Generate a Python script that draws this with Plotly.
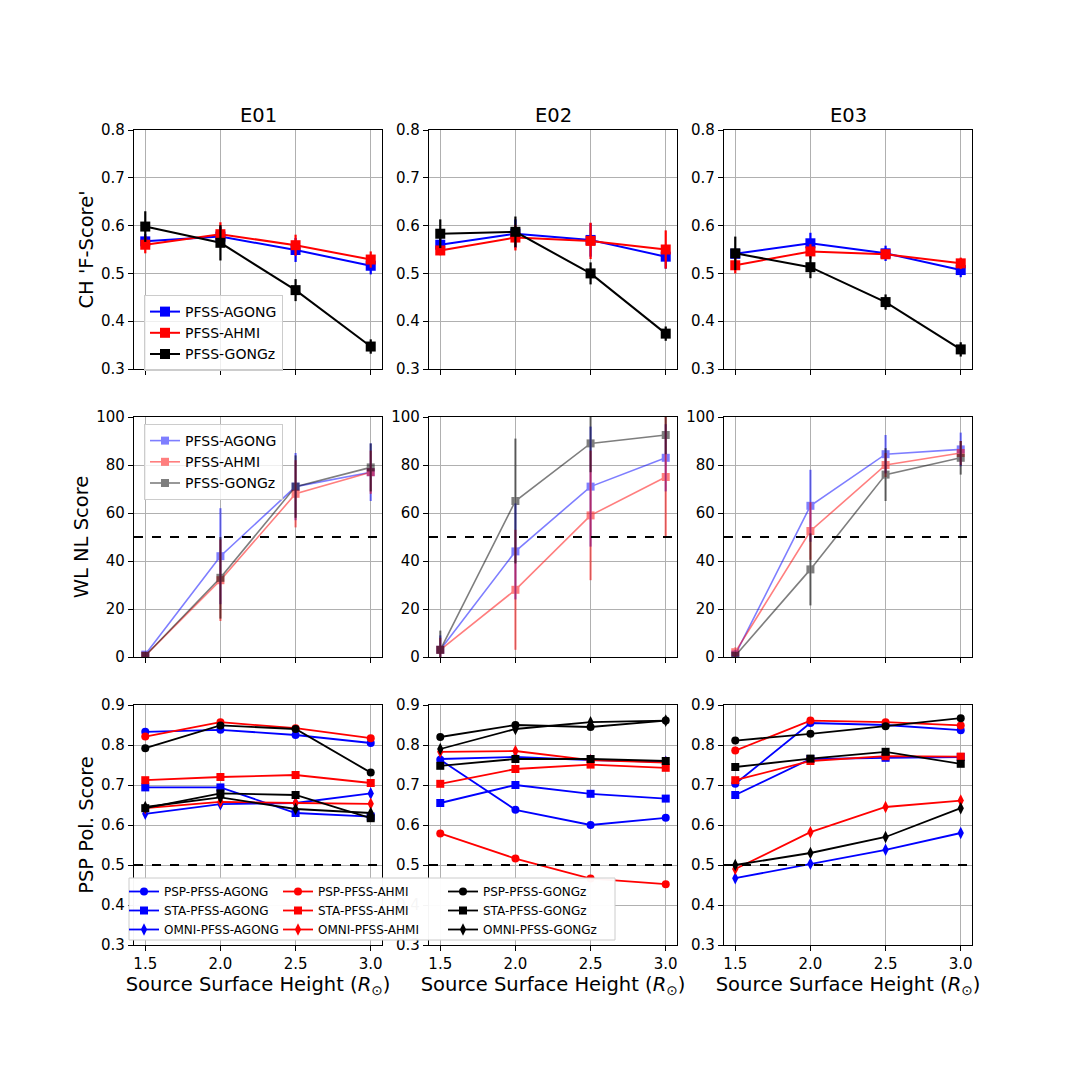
import plotly.graph_objects as go

heights = [1.5, 2.0, 2.5, 3.0]
height_labels = ["1.5", "2.0", "2.5", "3.0"]
events = ["E01", "E02", "E03"]
models = ["PFSS-AGONG", "PFSS-AHMI", "PFSS-GONGz"]
colors = {"PFSS-AGONG": "blue", "PFSS-AHMI": "red", "PFSS-GONGz": "black"}

# Row 1: CH F-score (value, error)
ch_agong = {"E01": [0.567, 0.577, 0.549, 0.516], "E02": [0.560, 0.583, 0.570, 0.535], "E03": [0.541, 0.563, 0.542, 0.507]}
ch_agong_err = {"E01": [0.015, 0.020, 0.025, 0.018], "E02": [0.020, 0.030, 0.035, 0.025], "E03": [0.010, 0.022, 0.016, 0.015]}
ch_ahmi = {"E01": [0.560, 0.582, 0.559, 0.529], "E02": [0.548, 0.575, 0.568, 0.550], "E03": [0.517, 0.546, 0.540, 0.521]}
ch_ahmi_err = {"E01": [0.018, 0.025, 0.022, 0.017], "E02": [0.010, 0.027, 0.038, 0.040], "E03": [0.017, 0.015, 0.010, 0.012]}
ch_gongz = {"E01": [0.598, 0.564, 0.465, 0.347], "E02": [0.583, 0.587, 0.500, 0.374], "E03": [0.542, 0.513, 0.440, 0.341]}
ch_gongz_err = {"E01": [0.032, 0.037, 0.023, 0.015], "E02": [0.030, 0.032, 0.023, 0.015], "E03": [0.035, 0.023, 0.016, 0.015]}

# Row 2: WL NL score (value, error)
wl_agong = {"E01": [1, 42, 71, 77], "E02": [3, 44, 71, 83], "E03": [1, 63, 84.5, 86.5]}
wl_agong_err = {"E01": [1.5, 20, 14, 12], "E02": [6, 20, 25, 14], "E03": [2, 15, 8, 7]}
wl_ahmi = {"E01": [0.5, 32, 68, 77], "E02": [3, 28, 59, 75], "E03": [2, 52.5, 80, 85]}
wl_ahmi_err = {"E01": [1, 17, 14, 9], "E02": [5, 25, 27, 25], "E03": [2, 12, 5, 5]}
wl_gongz = {"E01": [0.5, 33, 71, 79], "E02": [3, 65, 89, 92.5], "E03": [0.5, 36.5, 76, 83]}
wl_gongz_err = {"E01": [1, 17, 13, 10], "E02": [8, 26, 12, 8], "E03": [1, 15, 11, 7]}

# Row 3: PSP polarity score
psp_agong = {"E01": [0.833, 0.838, 0.825, 0.805], "E02": [0.763, 0.638, 0.600, 0.618], "E03": [0.703, 0.855, 0.850, 0.837]}
sta_agong = {"E01": [0.694, 0.694, 0.630, 0.621], "E02": [0.655, 0.700, 0.678, 0.666], "E03": [0.675, 0.765, 0.768, 0.770]}
omni_agong = {"E01": [0.628, 0.652, 0.655, 0.679], "E02": [0.765, 0.770, 0.762, 0.758], "E03": [0.467, 0.503, 0.538, 0.580]}
psp_ahmi = {"E01": [0.821, 0.857, 0.842, 0.817], "E02": [0.579, 0.516, 0.466, 0.452], "E03": [0.786, 0.861, 0.857, 0.849]}
sta_ahmi = {"E01": [0.712, 0.720, 0.725, 0.705], "E02": [0.703, 0.740, 0.751, 0.743], "E03": [0.712, 0.760, 0.772, 0.771]}
omni_ahmi = {"E01": [0.642, 0.658, 0.655, 0.653], "E02": [0.783, 0.785, 0.762, 0.756], "E03": [0.490, 0.582, 0.645, 0.661]}
psp_gongz = {"E01": [0.792, 0.849, 0.840, 0.731], "E02": [0.820, 0.850, 0.845, 0.861], "E03": [0.811, 0.828, 0.847, 0.867]}
sta_gongz = {"E01": [0.642, 0.679, 0.675, 0.617], "E02": [0.748, 0.765, 0.765, 0.760], "E03": [0.745, 0.766, 0.783, 0.753]}
omni_gongz = {"E01": [0.645, 0.669, 0.640, 0.630], "E02": [0.790, 0.840, 0.857, 0.861], "E03": [0.500, 0.530, 0.570, 0.642]}

ch_vals = {"PFSS-AGONG": (ch_agong, ch_agong_err), "PFSS-AHMI": (ch_ahmi, ch_ahmi_err), "PFSS-GONGz": (ch_gongz, ch_gongz_err)}
wl_vals = {"PFSS-AGONG": (wl_agong, wl_agong_err), "PFSS-AHMI": (wl_ahmi, wl_ahmi_err), "PFSS-GONGz": (wl_gongz, wl_gongz_err)}
# legend columns for the bottom row
pol_columns = [
    [("PSP-PFSS-AGONG", psp_agong, "blue", "circle"),
     ("STA-PFSS-AGONG", sta_agong, "blue", "square"),
     ("OMNI-PFSS-AGONG", omni_agong, "blue", "diamond-tall")],
    [("PSP-PFSS-AHMI", psp_ahmi, "red", "circle"),
     ("STA-PFSS-AHMI", sta_ahmi, "red", "square"),
     ("OMNI-PFSS-AHMI", omni_ahmi, "red", "diamond-tall")],
    [("PSP-PFSS-GONGz", psp_gongz, "black", "circle"),
     ("STA-PFSS-GONGz", sta_gongz, "black", "square"),
     ("OMNI-PFSS-GONGz", omni_gongz, "black", "diamond-tall")],
]

FIG = 1080
M = 60           # explicit margin on every side
INNER = FIG - 2 * M
PAGE_OFF = 8     # browser body margin


def px2x(X):
    return (X - PAGE_OFF - M) / INNER


def px2y(Y):
    return 1 - (Y - PAGE_OFF - M) / INNER


col_px = [(134, 382), (429, 677), (724, 972)]
row_px = [(130, 369), (417, 657), (705, 945)]

fig = go.Figure()
layout = {}
FONT = "DejaVu Sans"
TITLE_SIZE = 19.5


def axname(r, c):
    return r * 3 + c + 1


def axrefs(r, c):
    n = axname(r, c)
    return ("x" if n == 1 else f"x{n}"), ("y" if n == 1 else f"y{n}")


for r in range(3):
    for c in range(3):
        n = axname(r, c)
        xk = "xaxis" if n == 1 else f"xaxis{n}"
        yk = "yaxis" if n == 1 else f"yaxis{n}"
        xa, ya = axrefs(r, c)
        x0, x1 = col_px[c]
        y0, y1 = row_px[r]
        layout[xk] = dict(
            domain=[px2x(x0), px2x(x1)], anchor=ya,
            range=[1.425, 3.075], tickvals=heights,
            ticktext=height_labels, showticklabels=(r == 2),
            showgrid=True, gridcolor="#b0b0b0", gridwidth=1,
            showline=True, linecolor="black", linewidth=1.2, mirror=True,
            ticks="outside", ticklen=5, tickcolor="black", zeroline=False,
            tickfont=dict(size=15, color="black", family=FONT),
        )
        if r == 2:
            layout[xk]["title"] = dict(text="Source Surface Height (<i>R</i><sub>⊙</sub>)",
                                       font=dict(size=TITLE_SIZE, color="black", family=FONT), standoff=3)
        if r == 0:
            yr, ytv = [0.3, 0.8], [0.3, 0.4, 0.5, 0.6, 0.7, 0.8]
            ytt = [f"{v:.1f}" for v in ytv]
        elif r == 1:
            yr, ytv = [0, 100], [0, 20, 40, 60, 80, 100]
            ytt = [str(v) for v in ytv]
        else:
            yr, ytv = [0.3, 0.9], [0.3, 0.4, 0.5, 0.6, 0.7, 0.8, 0.9]
            ytt = [f"{v:.1f}" for v in ytv]
        layout[yk] = dict(
            domain=[px2y(y1), px2y(y0)], anchor=xa,
            range=yr, tickvals=ytv, ticktext=ytt,
            showgrid=True, gridcolor="#b0b0b0", gridwidth=1,
            showline=True, linecolor="black", linewidth=1.2, mirror=True,
            ticks="outside", ticklen=5, tickcolor="black", zeroline=False,
            tickfont=dict(size=15, color="black", family=FONT),
        )
        if c == 0:
            ttl = ["CH 'F-Score'", "WL NL Score", "PSP Pol. Score"][r]
            layout[yk]["title"] = dict(text=ttl, font=dict(size=TITLE_SIZE, color="black", family=FONT), standoff=2)

# Row 1
for c, ev in enumerate(events):
    xa, ya = axrefs(0, c)
    for m in models:
        vals, errs = ch_vals[m]
        fig.add_trace(go.Scatter(
            x=heights, y=vals[ev], mode="lines+markers", name=m,
            line=dict(color=colors[m], width=2),
            marker=dict(symbol="square", size=10, color=colors[m]),
            error_y=dict(type="data", array=errs[ev], color=colors[m], thickness=2.2, width=0),
            xaxis=xa, yaxis=ya, showlegend=(c == 0), legend="legend",
        ))

# Row 2
for c, ev in enumerate(events):
    xa, ya = axrefs(1, c)
    for m in models:
        vals, errs = wl_vals[m]
        fig.add_trace(go.Scatter(
            x=heights, y=vals[ev], mode="lines+markers", name=m, opacity=0.5,
            line=dict(color=colors[m], width=1.6),
            marker=dict(symbol="square", size=8, color=colors[m]),
            error_y=dict(type="data", array=errs[ev], color=colors[m], thickness=2.2, width=0),
            xaxis=xa, yaxis=ya, showlegend=(c == 0), legend="legend2",
        ))

# Row 3
for c, ev in enumerate(events):
    xa, ya = axrefs(2, c)
    for k, column in enumerate(pol_columns):
        for name, d, col, sym in column:
            fig.add_trace(go.Scatter(
                x=heights, y=d[ev], mode="lines+markers", name=name,
                line=dict(color=col, width=1.8),
                marker=dict(symbol=sym, size=8 if sym != "diamond-tall" else 9, color=col),
                xaxis=xa, yaxis=ya, showlegend=(c == 0), legend=f"legend{3 + k}",
            ))

# dashed threshold lines
shapes = []
for r, yv in [(1, 50), (2, 0.5)]:
    for c in range(3):
        xa, ya = axrefs(r, c)
        shapes.append(dict(type="line", xref=f"{xa} domain", yref=ya, x0=0, x1=1, y0=yv, y1=yv,
                           line=dict(color="black", width=2.2, dash="dash")))
# frame of the bottom legend (three legend columns share one box)
shapes.append(dict(type="rect", xref="paper", yref="paper", layer="above",
                   x0=px2x(129), x1=px2x(615), y0=px2y(940), y1=px2y(878),
                   fillcolor="rgba(255,255,255,0.96)", line=dict(color="#cccccc", width=1)))

annotations = []
for c, ev in enumerate(events):
    x0, x1 = col_px[c]
    annotations.append(dict(text=ev, x=px2x((x0 + x1) / 2), y=px2y(129), xref="paper", yref="paper",
                            xanchor="center", yanchor="bottom", showarrow=False,
                            font=dict(size=TITLE_SIZE, color="black", family=FONT)))

leg_box = dict(bgcolor="rgba(255,255,255,0.8)", bordercolor="#cccccc", borderwidth=1,
               xanchor="left", yanchor="top", tracegroupgap=0, itemwidth=30)
leg_plain = dict(bgcolor="rgba(0,0,0,0)", borderwidth=0,
                 xanchor="left", yanchor="top", tracegroupgap=0, itemwidth=30)

legends = dict(
    legend=dict(x=px2x(144), y=px2y(295), font=dict(size=14, family=FONT, color="black"), **leg_box),
    legend2=dict(x=px2x(144), y=px2y(424), font=dict(size=14, family=FONT, color="black"), **leg_box),
)
for k, lx in enumerate([124, 278, 443]):
    legends[f"legend{3 + k}"] = dict(x=px2x(lx), y=px2y(877), font=dict(size=12, family=FONT, color="black"),
                                      **leg_plain)

fig.update_layout(
    width=FIG, height=FIG,
    margin=dict(l=M, r=M, t=M, b=M, autoexpand=False),
    paper_bgcolor="white", plot_bgcolor="white",
    font=dict(family=FONT, color="black"),
    shapes=shapes, annotations=annotations,
    **legends,
    **layout,
)

fig.write_html("out.html")
